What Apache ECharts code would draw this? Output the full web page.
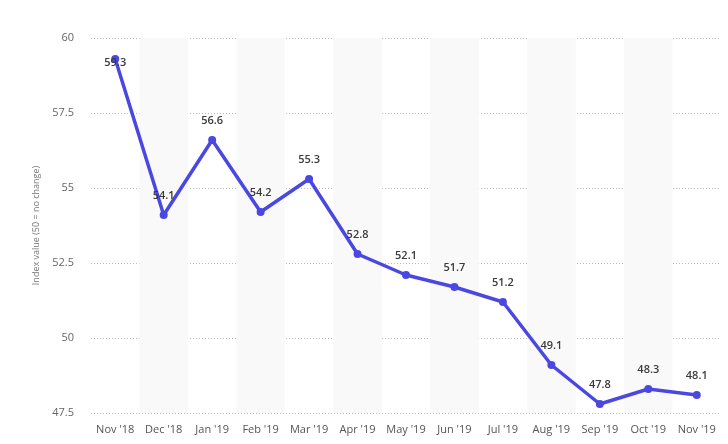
<!DOCTYPE html>
<html>
<head>
<meta charset="utf-8">
<script src="https://cdn.jsdelivr.net/npm/echarts@6/dist/echarts.min.js"></script>
<style>
html,body{margin:0;padding:0;background:#fff;}
#chart{width:728px;height:444px;}
</style>
</head>
<body>
<div id="chart"></div>
<script>
var months = ["Nov '18", "Dec '18", "Jan '19", "Feb '19", "Mar '19", "Apr '19", "May '19", "Jun '19", "Jul '19", "Aug '19", "Sep '19", "Oct '19", "Nov '19"];
var indexValues = [59.3, 54.1, 56.6, 54.2, 55.3, 52.8, 52.1, 51.7, 51.2, 49.1, 47.8, 48.3, 48.1];
var yTicks = [47.5, 50, 52.5, 55, 57.5, 60];

var myChart = echarts.init(document.getElementById('chart'));

// first point sits at the top edge, its label goes over the marker
var seriesData = indexValues.map(function(v, i){
    if (i === 0) {
        return {value: v, label: {position: 'inside', offset: [0, 4]}};
    }
    return v;
});

var option = {
    animation: false,
    textStyle: {fontFamily: '"Open Sans", "Liberation Sans", sans-serif'},
    grid: {
        left: 91,
        right: 7,
        top: 38,
        bottom: 31
    },
    xAxis: {
        type: 'category',
        data: months,
        boundaryGap: true,
        axisLine: {show: false},
        axisTick: {show: false},
        axisLabel: {color: '#555', fontSize: 11, margin: 11, interval: 0},
        splitArea: {
            show: true,
            areaStyle: {color: ['rgba(255,255,255,0)', '#f9f9f9']}
        }
    },
    yAxis: {
        type: 'value',
        min: yTicks[0],
        max: yTicks[yTicks.length - 1],
        interval: 2.5,
        name: 'Index value (50 = no change)',
        nameLocation: 'middle',
        nameGap: 42,
        nameTextStyle: {color: '#777', fontSize: 9},
        axisLine: {show: false},
        axisTick: {show: false},
        axisLabel: {color: '#666', fontSize: 11, margin: 17},
        splitLine: {lineStyle: {color: '#bbb', type: [1, 2], width: 1}}
    },
    series: [
        {
            name: 'Index value',
            type: 'line',
            data: seriesData,
            symbol: 'circle',
            symbolSize: 8,
            lineStyle: {color: '#4a48e0', width: 3.5},
            itemStyle: {color: '#4a48e0'},
            label: {
                show: true,
                position: 'top',
                distance: 10,
                color: '#3a3a3a',
                fontSize: 11,
                fontWeight: 600
            }
        }
    ]
};
myChart.setOption(option);
</script>
</body>
</html>
